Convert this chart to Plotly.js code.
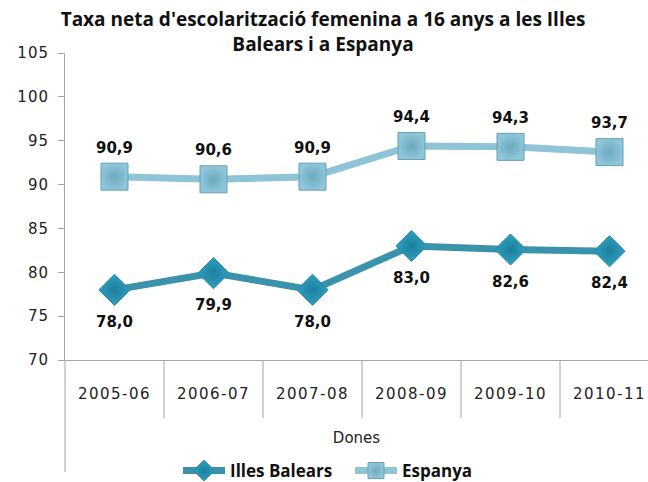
<!DOCTYPE html>
<html><head><meta charset="utf-8">
<script src="https://cdn.plot.ly/plotly-3.0.1.min.js"></script>
<style>
html,body{margin:0;padding:0;overflow:hidden;width:648px;height:482px;background:#fff}
#chart .xtick text{letter-spacing:1.5px}
#chart .ytick text{letter-spacing:1px}
</style>
</head><body>
<div id="chart"></div>
<script>
const categories = ["2005-06","2006-07","2007-08","2008-09","2009-10","2010-11"];
const illesBalears = [78.0, 79.9, 78.0, 83.0, 82.6, 82.4];
const espanya = [90.9, 90.6, 90.9, 94.4, 94.3, 93.7];
const yTicks = [70,75,80,85,90,95,100,105];

const W = 648, H = 482;
const mL = 65, mR = 0, mT = 53, mB = 122;
const plotH = H - mT - mB;
const catW = 99;
const xEnd = -0.5 + (W - mL - mR) / catW;

const labelFont = {family: "DejaVu Sans", size: 15, color: "#111", weight: "bold"};

const traces = [
  {
    x: categories, y: illesBalears, name: "Illes Balears", type: "scatter", mode: "lines+markers",
    line: {color: "#3b93ab", width: 7},
    marker: {symbol: "diamond", size: 24, color: "#2f9fc0",
      gradient: {type: "radial", color: "#1d7f9c"},
      line: {color: "#2a88a3", width: 1}},
    cliponaxis: false
  },
  {
    x: categories, y: espanya, name: "Espanya", type: "scatter", mode: "lines+markers",
    line: {color: "#8fc3d6", width: 7},
    marker: {symbol: "square", size: 27, color: "#8ec6da",
      gradient: {type: "radial", color: "#6ea9bd"},
      line: {color: "#6a9fb2", width: 1}},
    cliponaxis: false
  },
  {
    x: categories, y: illesBalears, type: "scatter", mode: "markers+text", showlegend: false,
    marker: {size: 40, color: "rgba(0,0,0,0)"},
    text: illesBalears, texttemplate: "%{y:.1f}", textposition: "bottom center",
    textfont: labelFont, cliponaxis: false, hoverinfo: "skip"
  },
  {
    x: categories, y: espanya, type: "scatter", mode: "markers+text", showlegend: false,
    marker: {size: 31, color: "rgba(0,0,0,0)"},
    text: espanya, texttemplate: "%{y:.1f}", textposition: "top center",
    textfont: labelFont, cliponaxis: false, hoverinfo: "skip"
  }
];

const shapes = [];
for (let i = 0; i < categories.length - 1; i++) {
  shapes.push({type: "line", xref: "x", yref: "paper", x0: i + 0.5, x1: i + 0.5,
    y0: 0, y1: -58 / plotH, line: {color: "#a6a6a6", width: 1}});
}
shapes.push({type: "line", xref: "paper", yref: "paper", x0: 0, x1: 0,
  y0: 0, y1: -112 / plotH, line: {color: "#a6a6a6", width: 1}});

const layout = {
  width: W, height: H,
  margin: {l: mL, r: mR, t: mT, b: mB, autoexpand: false},
  separators: ",.",
  paper_bgcolor: "#fff", plot_bgcolor: "#fff",
  showlegend: true,
  title: {
    text: "Taxa neta d'escolarització femenina a 16 anys a les Illes<br>Balears i a Espanya",
    font: {family: "Open Sans", size: 19, color: "#111", weight: "bold"},
    x: 323 / W, xanchor: "center", y: 1 - 26 / H, yanchor: "top"
  },
  xaxis: {
    type: "category", range: [-0.5, xEnd],
    showline: true, linecolor: "#a6a6a6", linewidth: 1,
    showgrid: false, zeroline: false, ticks: "",
    ticklabelstandoff: 20,
    tickfont: {family: "DejaVu Sans", size: 15, color: "#222"},
    title: {text: "Dones", standoff: 30, font: {family: "DejaVu Sans", size: 15, color: "#222"}},
    automargin: false, fixedrange: true
  },
  yaxis: {
    range: [70, 105], tickvals: yTicks, ticktext: yTicks.map(String),
    showline: true, linecolor: "#a6a6a6", linewidth: 1,
    showgrid: false, zeroline: false,
    ticks: "outside", ticklen: 6, tickcolor: "#a6a6a6",
    ticklabelstandoff: 6,
    tickfont: {family: "DejaVu Sans", size: 15, color: "#222"},
    automargin: false, fixedrange: true
  },
  legend: {
    orientation: "h", x: (350 - mL) / (W - mL - mR), xanchor: "center",
    y: -(471 - 360) / plotH, yanchor: "middle",
    font: {family: "Open Sans", size: 17, color: "#111", weight: "bold"},
    itemwidth: 42, entrywidth: 115, traceorder: "normal"
  },
  shapes: shapes
};

Plotly.newPlot("chart", traces, layout, {displayModeBar: false, staticPlot: true});
</script>
</body></html>
